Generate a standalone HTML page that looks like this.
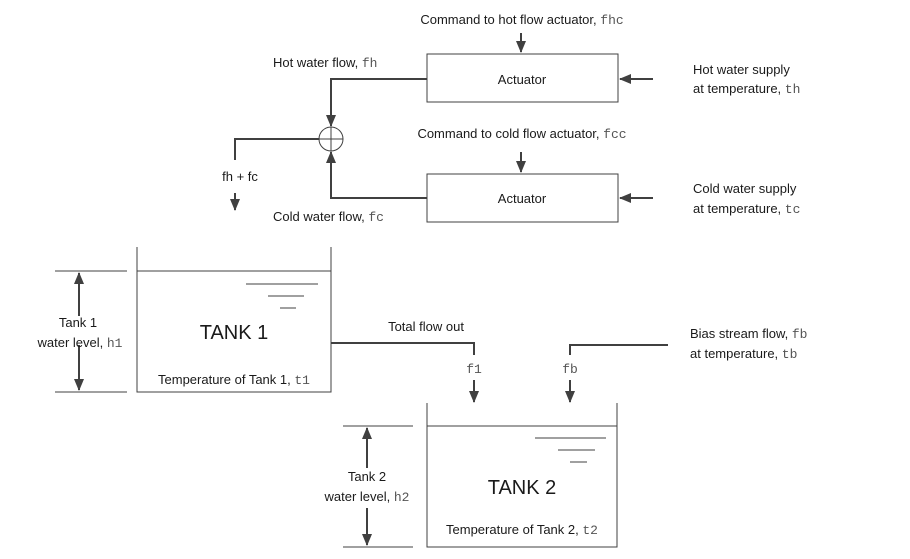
<!DOCTYPE html>
<html><head><meta charset="utf-8"><style>
html,body{margin:0;padding:0;background:#fff}
svg{display:block}
text{font-family:"Liberation Sans",sans-serif;font-size:13px;fill:#1a1a1a}
.m{font-family:"Liberation Mono",monospace;fill:#555}
.big{font-size:20px}
</style></head><body>
<svg width="910" height="559" viewBox="0 0 910 559" xmlns="http://www.w3.org/2000/svg">
<defs><marker id="a" markerWidth="12" markerHeight="12" refX="11" refY="6" orient="auto" markerUnits="userSpaceOnUse"><path d="M0,1 L12,6 L0,11 z" fill="#404040"/></marker></defs>
<g stroke="#404040" stroke-width="2" fill="none">
<rect x="427" y="54" width="191" height="48" stroke-width="1"/>
<rect x="427" y="174" width="191" height="48" stroke-width="1"/>
<line x1="521" y1="33" x2="521" y2="52" marker-end="url(#a)"/>
<line x1="521" y1="152" x2="521" y2="172" marker-end="url(#a)"/>
<line x1="653" y1="79" x2="620" y2="79" marker-end="url(#a)"/>
<line x1="653" y1="198" x2="620" y2="198" marker-end="url(#a)"/>
<polyline points="427,79 331,79 331,126" marker-end="url(#a)"/>
<polyline points="427,198 331,198 331,152" marker-end="url(#a)"/>
<circle cx="331" cy="139" r="12" stroke-width="1"/>
<line x1="319" y1="139" x2="343" y2="139" stroke-width="1"/>
<line x1="331" y1="127" x2="331" y2="151" stroke-width="1"/>
<polyline points="319,139 235,139 235,160"/>
<line x1="235" y1="193" x2="235" y2="210" marker-end="url(#a)"/>
<polyline points="137,247 137,392 331,392 331,247" stroke-width="1"/>
<line x1="137" y1="271" x2="331" y2="271" stroke-width="1"/>
<line x1="246" y1="284" x2="318" y2="284" stroke-width="1"/>
<line x1="268" y1="296" x2="304" y2="296" stroke-width="1"/>
<line x1="280" y1="308" x2="296" y2="308" stroke-width="1"/>
<line x1="55" y1="271" x2="127" y2="271" stroke-width="1"/>
<line x1="55" y1="392" x2="127" y2="392" stroke-width="1"/>
<line x1="79" y1="316" x2="79" y2="273" marker-end="url(#a)"/>
<line x1="79" y1="345" x2="79" y2="390" marker-end="url(#a)"/>
<polyline points="331,343 474,343 474,355"/>
<line x1="474" y1="380" x2="474" y2="402" marker-end="url(#a)"/>
<polyline points="668,345 570,345 570,355"/>
<line x1="570" y1="380" x2="570" y2="402" marker-end="url(#a)"/>
<polyline points="427,403 427,547 617,547 617,403" stroke-width="1"/>
<line x1="427" y1="426" x2="617" y2="426" stroke-width="1"/>
<line x1="535" y1="438" x2="606" y2="438" stroke-width="1"/>
<line x1="558" y1="450" x2="595" y2="450" stroke-width="1"/>
<line x1="570" y1="462" x2="587" y2="462" stroke-width="1"/>
<line x1="343" y1="426" x2="413" y2="426" stroke-width="1"/>
<line x1="343" y1="547" x2="413" y2="547" stroke-width="1"/>
<line x1="367" y1="468" x2="367" y2="428" marker-end="url(#a)"/>
<line x1="367" y1="508" x2="367" y2="545" marker-end="url(#a)"/>
</g>
<text x="522" y="24" text-anchor="middle">Command to hot flow actuator, <tspan class="m">fhc</tspan></text>
<text x="522" y="84" text-anchor="middle">Actuator</text>
<text x="273" y="67">Hot water flow, <tspan class="m">fh</tspan></text>
<text x="693" y="74">Hot water supply</text>
<text x="693" y="93">at temperature, <tspan class="m">th</tspan></text>
<text x="522" y="138" text-anchor="middle">Command to cold flow actuator, <tspan class="m">fcc</tspan></text>
<text x="522" y="203" text-anchor="middle">Actuator</text>
<text x="240" y="181" text-anchor="middle">fh + fc</text>
<text x="273" y="221">Cold water flow, <tspan class="m">fc</tspan></text>
<text x="693" y="193">Cold water supply</text>
<text x="693" y="213">at temperature, <tspan class="m">tc</tspan></text>
<text x="234" y="339" text-anchor="middle" class="big">TANK 1</text>
<text x="234" y="384" text-anchor="middle">Temperature of Tank 1, <tspan class="m">t1</tspan></text>
<text x="78" y="327" text-anchor="middle">Tank 1</text>
<text x="80" y="347" text-anchor="middle">water level, <tspan class="m">h1</tspan></text>
<text x="426" y="331" text-anchor="middle">Total flow out</text>
<text x="474" y="373" text-anchor="middle" class="m">f1</text>
<text x="570" y="373" text-anchor="middle" class="m">fb</text>
<text x="690" y="338">Bias stream flow, <tspan class="m">fb</tspan></text>
<text x="690" y="358">at temperature, <tspan class="m">tb</tspan></text>
<text x="522" y="494" text-anchor="middle" class="big">TANK 2</text>
<text x="522" y="534" text-anchor="middle">Temperature of Tank 2, <tspan class="m">t2</tspan></text>
<text x="367" y="481" text-anchor="middle">Tank 2</text>
<text x="367" y="501" text-anchor="middle">water level, <tspan class="m">h2</tspan></text>
</svg>
</body></html>
